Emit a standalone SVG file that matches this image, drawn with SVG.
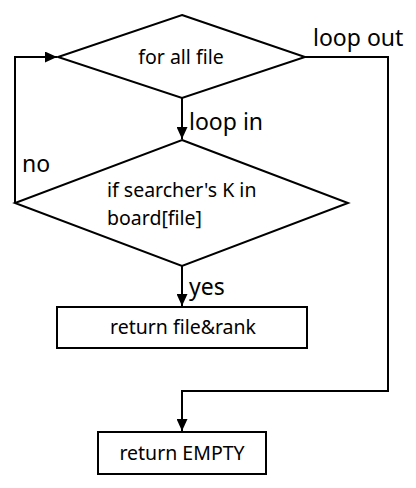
<svg xmlns="http://www.w3.org/2000/svg" width="416" height="488" viewBox="0 0 416 488">
<defs>
<marker id="ah" viewBox="0 0 10 10" refX="10" refY="5" markerWidth="6" markerHeight="5.5" markerUnits="strokeWidth" orient="auto" preserveAspectRatio="none">
<path d="M0,0 L10,5 L0,10 z" fill="#000"/>
</marker>
<style>
.s{fill:#fff;stroke:#000;stroke-width:2}
.c{fill:none;stroke:#000;stroke-width:2}
.t{font-family:"Noto Sans","Liberation Sans",sans-serif;fill:#000}
.n{font-size:19.5px;text-anchor:middle}
.l{font-size:23px}
</style>
</defs>
<rect width="416" height="488" fill="#fff"/>
<g id="connectors">
<path class="c" d="M182,98 V139" marker-end="url(#ah)"/>
<path class="c" d="M15,203 V57 H57" marker-end="url(#ah)"/>
<path class="c" d="M182,266 V306" marker-end="url(#ah)"/>
<path class="c" d="M305,57 H388 V391 H182 V431" marker-end="url(#ah)"/>
<text class="t l" x="313" y="46">loop out</text>
<text class="t l" x="189" y="130">loop in</text>
<text class="t l" x="22" y="172">no</text>
<text class="t l" x="189" y="295">yes</text>
</g>
<g id="for-all-file">
<polygon class="s" points="182,15 305,57 182,98 58,57"/>
<text class="t n" x="181" y="64">for all file</text>
</g>
<g id="if-searcher">
<polygon class="s" points="182,140 348,203 182,266 15,203"/>
<text class="t" font-size="19.5" x="107" y="197">if searcher's K in</text>
<text class="t" font-size="19.5" x="107" y="225">board[file]</text>
</g>
<g id="return-file-rank">
<rect class="s" x="57" y="307" width="250" height="41"/>
<text class="t n" x="183" y="334">return file&amp;rank</text>
</g>
<g id="return-empty">
<rect class="s" x="98" y="432" width="168" height="42"/>
<text class="t n" x="182" y="460">return EMPTY</text>
</g>
</svg>
